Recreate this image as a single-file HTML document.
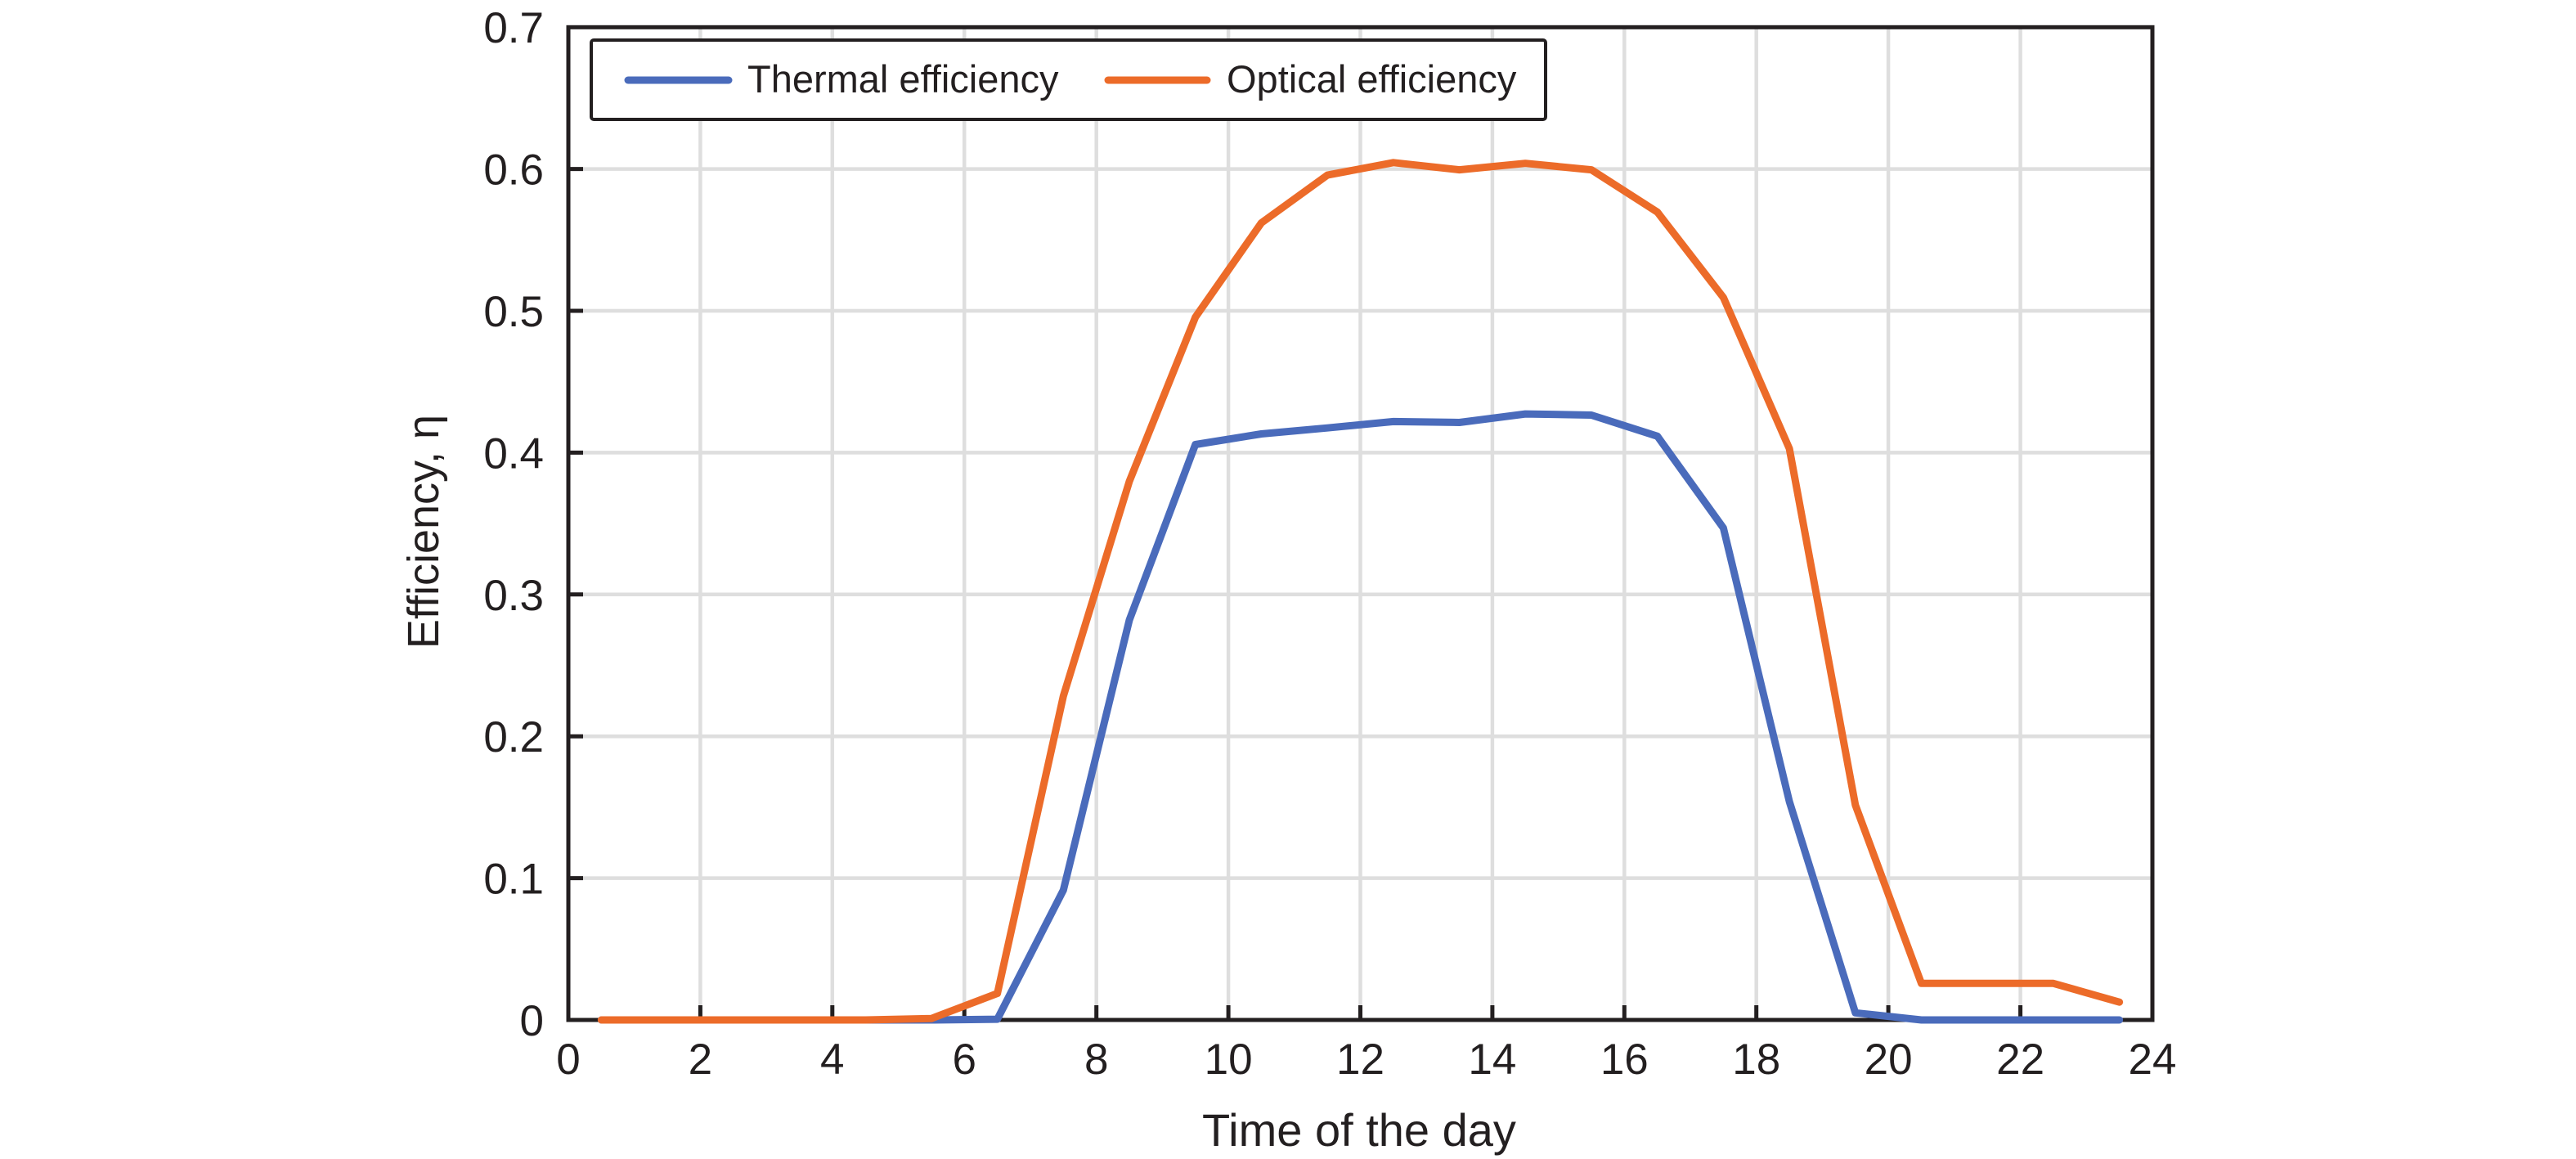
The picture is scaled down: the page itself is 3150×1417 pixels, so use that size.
<!DOCTYPE html>
<html>
<head>
<meta charset="utf-8">
<style>
  html, body { margin: 0; padding: 0; background: #ffffff; }
  svg { display: block; }
  text { font-family: "Liberation Sans", Arial, sans-serif; fill: #231f20; }
</style>
</head>
<body>
<svg width="3150" height="1417" viewBox="0 0 3150 1417" xmlns="http://www.w3.org/2000/svg">
  <rect x="0" y="0" width="3150" height="1417" fill="#ffffff"/>

  <!-- gridlines -->
  <g stroke="#dedede" stroke-width="4.5">
    <line x1="856.4" y1="33.3" x2="856.4" y2="1247"/>
    <line x1="1017.8" y1="33.3" x2="1017.8" y2="1247"/>
    <line x1="1179.2" y1="33.3" x2="1179.2" y2="1247"/>
    <line x1="1340.7" y1="33.3" x2="1340.7" y2="1247"/>
    <line x1="1502.1" y1="33.3" x2="1502.1" y2="1247"/>
    <line x1="1663.5" y1="33.3" x2="1663.5" y2="1247"/>
    <line x1="1824.9" y1="33.3" x2="1824.9" y2="1247"/>
    <line x1="1986.3" y1="33.3" x2="1986.3" y2="1247"/>
    <line x1="2147.7" y1="33.3" x2="2147.7" y2="1247"/>
    <line x1="2309.1" y1="33.3" x2="2309.1" y2="1247"/>
    <line x1="2470.6" y1="33.3" x2="2470.6" y2="1247"/>
    <line x1="695" y1="1073.6" x2="2632" y2="1073.6"/>
    <line x1="695" y1="900.2" x2="2632" y2="900.2"/>
    <line x1="695" y1="726.8" x2="2632" y2="726.8"/>
    <line x1="695" y1="553.4" x2="2632" y2="553.4"/>
    <line x1="695" y1="380" x2="2632" y2="380"/>
    <line x1="695" y1="206.6" x2="2632" y2="206.6"/>
  </g>

  <!-- axes frame -->
  <rect x="695" y="33.3" width="1937" height="1213.7" fill="none" stroke="#231f20" stroke-width="5"/>

  <!-- ticks -->
  <g stroke="#231f20" stroke-width="5">
    <line x1="856.4" y1="1247" x2="856.4" y2="1229"/>
    <line x1="1017.8" y1="1247" x2="1017.8" y2="1229"/>
    <line x1="1179.2" y1="1247" x2="1179.2" y2="1229"/>
    <line x1="1340.7" y1="1247" x2="1340.7" y2="1229"/>
    <line x1="1502.1" y1="1247" x2="1502.1" y2="1229"/>
    <line x1="1663.5" y1="1247" x2="1663.5" y2="1229"/>
    <line x1="1824.9" y1="1247" x2="1824.9" y2="1229"/>
    <line x1="1986.3" y1="1247" x2="1986.3" y2="1229"/>
    <line x1="2147.7" y1="1247" x2="2147.7" y2="1229"/>
    <line x1="2309.1" y1="1247" x2="2309.1" y2="1229"/>
    <line x1="2470.6" y1="1247" x2="2470.6" y2="1229"/>
    <line x1="695" y1="1073.6" x2="713" y2="1073.6"/>
    <line x1="695" y1="900.2" x2="713" y2="900.2"/>
    <line x1="695" y1="726.8" x2="713" y2="726.8"/>
    <line x1="695" y1="553.4" x2="713" y2="553.4"/>
    <line x1="695" y1="380" x2="713" y2="380"/>
    <line x1="695" y1="206.6" x2="713" y2="206.6"/>
  </g>

  <!-- y tick labels -->
  <g font-size="53" text-anchor="end">
    <text x="665" y="1266">0</text>
    <text x="665" y="1092.6">0.1</text>
    <text x="665" y="919.2">0.2</text>
    <text x="665" y="745.8">0.3</text>
    <text x="665" y="572.4">0.4</text>
    <text x="665" y="399">0.5</text>
    <text x="665" y="225.6">0.6</text>
    <text x="665" y="52.2">0.7</text>
  </g>

  <!-- x tick labels -->
  <g font-size="53" text-anchor="middle">
    <text x="695" y="1313">0</text>
    <text x="856.4" y="1313">2</text>
    <text x="1017.8" y="1313">4</text>
    <text x="1179.2" y="1313">6</text>
    <text x="1340.7" y="1313">8</text>
    <text x="1502.1" y="1313">10</text>
    <text x="1663.5" y="1313">12</text>
    <text x="1824.9" y="1313">14</text>
    <text x="1986.3" y="1313">16</text>
    <text x="2147.7" y="1313">18</text>
    <text x="2309.1" y="1313">20</text>
    <text x="2470.6" y="1313">22</text>
    <text x="2632" y="1313">24</text>
  </g>

  <!-- axis titles -->
  <text x="1662" y="1401" font-size="56" text-anchor="middle">Time of the day</text>
  <text x="536" y="650" font-size="54" text-anchor="middle" transform="rotate(-90 536 650)">Efficiency, η</text>

  <!-- series: thermal (blue) -->
  <polyline fill="none" stroke="#4a6bbb" stroke-width="9" stroke-linejoin="round" stroke-linecap="round"
    points="735.35,1247 816.06,1247 896.77,1247 977.48,1247 1058.19,1247 1138.89,1247 1219.60,1246.1 1300.31,1088.3 1381.02,758.0 1461.73,543.5 1542.43,530.5 1623.14,523.2 1703.85,515.4 1784.56,516.5 1865.27,506.1 1945.97,507.5 2026.68,533.3 2107.39,645.5 2188.10,980.0 2268.81,1238.3 2349.51,1247 2430.22,1247 2510.93,1247 2591.64,1247"/>

  <!-- series: optical (orange) -->
  <polyline fill="none" stroke="#ec6b29" stroke-width="9" stroke-linejoin="round" stroke-linecap="round"
    points="735.35,1247 816.06,1247 896.77,1247 977.48,1247 1058.19,1247 1138.89,1245.3 1219.60,1214.6 1300.31,851.0 1381.02,588.4 1461.73,387.8 1542.43,272.5 1623.14,214.1 1703.85,198.8 1784.56,207.6 1865.27,199.7 1945.97,207.6 2026.68,259.3 2107.39,363.7 2188.10,548.5 2268.81,984.3 2349.51,1202.3 2430.22,1202.3 2510.93,1202.3 2591.64,1225.2"/>

  <!-- legend -->
  <rect x="723" y="49" width="1167" height="97" rx="3" fill="#ffffff" stroke="#231f20" stroke-width="4"/>
  <line x1="768" y1="98" x2="891" y2="98" stroke="#4a6bbb" stroke-width="9" stroke-linecap="round"/>
  <text x="914" y="113" font-size="47">Thermal efficiency</text>
  <line x1="1355" y1="98" x2="1476" y2="98" stroke="#ec6b29" stroke-width="9" stroke-linecap="round"/>
  <text x="1500" y="113" font-size="47">Optical efficiency</text>
</svg>
</body>
</html>
